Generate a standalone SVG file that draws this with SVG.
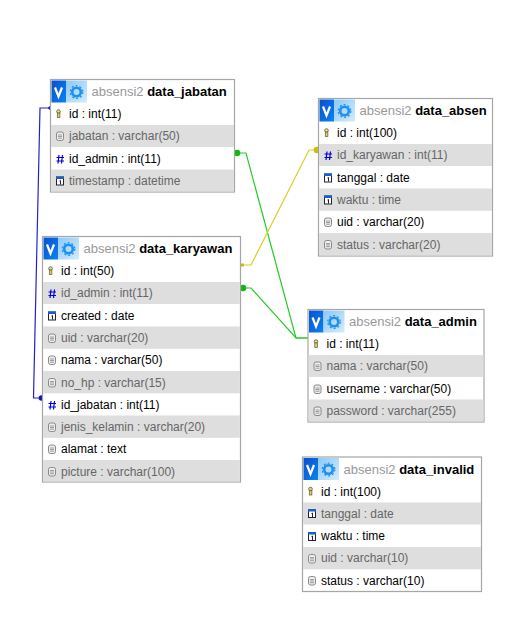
<svg xmlns="http://www.w3.org/2000/svg" xmlns:xlink="http://www.w3.org/1999/xlink" width="527" height="617" viewBox="0 0 527 617">
<style>
text{font-family:"Liberation Sans",Arial,sans-serif;font-size:12px;fill:#000}
.t{font-size:13px}
.db{fill:#999}
.n{font-weight:bold;fill:#000}
.g{fill:#666}
.box{fill:#fff;stroke:#a6a6a6;stroke-width:1.2}
.alt{fill:#dedede}
.c{fill:none;stroke-width:1.2}
.bl{stroke:#2222cc}.gr{stroke:#22cc22}.ye{stroke:#d8d020}
</style>
<defs>
<linearGradient id="vg" x1="0" y1="0" x2="1" y2="1"><stop offset="0" stop-color="#0a4fd0"/><stop offset="1" stop-color="#0a84f0"/></linearGradient>
<linearGradient id="lg" x1="0" y1="0" x2="1" y2="1"><stop offset="0" stop-color="#8cc8f8"/><stop offset="1" stop-color="#d4ecfc"/></linearGradient>
<g id="head">
<rect x="0" y="0" width="14.500" height="22" fill="url(#vg)"/>
<rect x="14.500" y="0" width="21" height="22" fill="url(#lg)"/>
<path d="M3.500 7l3.500 9 3.500-9" fill="none" stroke="#fff" stroke-width="2.200"/>
<circle cx="25" cy="11.500" r="4.300" fill="none" stroke="#1e90f0" stroke-width="2.600"/>
<circle cx="25" cy="11.500" r="6.300" fill="none" stroke="#1e90f0" stroke-width="1.200" stroke-dasharray="2 2"/>
</g>
<g id="key">
<circle cx="2.500" cy="2" r="1.800" fill="#f0e060" stroke="#555" stroke-width=".8"/>
<rect x="1.300" y="3.500" width="2.600" height="4.500" fill="#e8d040" stroke="#555" stroke-width=".7"/>
</g>
<path id="hash" d="M2.500 0.500L1.500 9M6 0.500L5 9M0 3H7.500M0 6.500H7.500" fill="none" stroke="#0000e0" stroke-width="1.200"/>
<g id="cal">
<rect x="0.500" y="0.500" width="7" height="8" fill="#fff" stroke="#223"/>
<rect x="0" y="0" width="8" height="2.500" fill="#1a5fc8"/>
<path d="M3.500 4.500l1-.5v4" fill="none" stroke="#222"/>
</g>
<g id="txt">
<rect x="0.500" y="0.500" width="7" height="8.500" rx="2" fill="#eee" stroke="#888"/>
<path d="M2 3.500H6M2 5H6M2 6.700H6" stroke="#888" stroke-width=".8"/>
</g>
</defs>

<g id="connectors">
<path class="c bl" d="M50 108H40L33.500 398H40"/>
<circle cx="41.500" cy="398" r="2.800" fill="#1010c0"/>
<circle cx="50" cy="108" r="1.800" fill="#1010c0"/>
<path class="c gr" d="M238 153H246L296 338H308"/>
<path class="c gr" d="M244 288H251L296 338H308"/>
<circle cx="237" cy="153" r="3.300" fill="#10b810"/>
<circle cx="243" cy="288" r="3.300" fill="#10b810"/>
<path class="c ye" d="M243 265H251L309 150H316"/>
<rect x="241" y="263.500" width="3" height="3" fill="#c8c000"/>
<circle cx="317" cy="150" r="3.300" fill="#c8c000"/>
</g>

<g id="data_jabatan" transform="translate(50.500 79.500)">
<rect class="box" width="184" height="112.500"/>
<rect class="alt" x=".6" y="45.500" width="182.800" height="22"/>
<rect class="alt" x=".6" y="90" width="182.800" height="22"/>
<use href="#head" x="1" y="1"/>
<text class="t" x="41" y="16.500"><tspan class="db">absensi2 </tspan><tspan class="n">data_jabatan</tspan></text>
<use href="#key" x="5.500" y="30"/><text x="18.500" y="38.500">id : int(11)</text>
<use href="#txt" x="5.500" y="52"/><text class="g" x="18.500" y="60.500">jabatan : varchar(50)</text>
<use href="#hash" x="6" y="75"/><text x="18.500" y="83">id_admin : int(11)</text>
<use href="#cal" x="5.500" y="97"/><text class="g" x="18.500" y="105">timestamp : datetime</text>
</g>

<g id="data_karyawan" transform="translate(42.500 236.500)">
<rect class="box" width="198" height="245.500"/>
<rect class="alt" x=".6" y="45.500" width="196.800" height="22"/>
<rect class="alt" x=".6" y="90" width="196.800" height="22.300"/>
<rect class="alt" x=".6" y="134.500" width="196.800" height="22.300"/>
<rect class="alt" x=".6" y="179" width="196.800" height="22.300"/>
<rect class="alt" x=".6" y="223.500" width="196.800" height="21.400"/>
<use href="#head" x="1" y="1"/>
<text class="t" x="41" y="16.500"><tspan class="db">absensi2 </tspan><tspan class="n">data_karyawan</tspan></text>
<use href="#key" x="5.500" y="30"/><text x="18.500" y="38.500">id : int(50)</text>
<use href="#hash" x="6" y="52.500"/><text class="g" x="18.500" y="60.500">id_admin : int(11)</text>
<use href="#cal" x="5.500" y="75"/><text x="18.500" y="83">created : date</text>
<use href="#txt" x="5.500" y="97"/><text class="g" x="18.500" y="105">uid : varchar(20)</text>
<use href="#txt" x="5.500" y="119"/><text x="18.500" y="127.500">nama : varchar(50)</text>
<use href="#txt" x="5.500" y="141.500"/><text class="g" x="18.500" y="150">no_hp : varchar(15)</text>
<use href="#hash" x="6" y="164"/><text x="18.500" y="172">id_jabatan : int(11)</text>
<use href="#txt" x="5.500" y="186"/><text class="g" x="18.500" y="194.500">jenis_kelamin : varchar(20)</text>
<use href="#txt" x="5.500" y="208"/><text x="18.500" y="216.500">alamat : text</text>
<use href="#txt" x="5.500" y="230.500"/><text class="g" x="18.500" y="239">picture : varchar(100)</text>
</g>

<g id="data_absen" transform="translate(318.500 98.500)">
<rect class="box" width="174" height="157.500"/>
<rect class="alt" x=".6" y="45.500" width="172.800" height="22"/>
<rect class="alt" x=".6" y="90" width="172.800" height="22.300"/>
<rect class="alt" x=".6" y="134.500" width="172.800" height="22.400"/>
<use href="#head" x="1" y="1"/>
<text class="t" x="41" y="16.500"><tspan class="db">absensi2 </tspan><tspan class="n">data_absen</tspan></text>
<use href="#key" x="5.500" y="30"/><text x="18.500" y="38.500">id : int(100)</text>
<use href="#hash" x="6" y="52.500"/><text class="g" x="18.500" y="60.500">id_karyawan : int(11)</text>
<use href="#cal" x="5.500" y="75"/><text x="18.500" y="83">tanggal : date</text>
<use href="#cal" x="5.500" y="97"/><text class="g" x="18.500" y="105">waktu : time</text>
<use href="#txt" x="5.500" y="119"/><text x="18.500" y="127.500">uid : varchar(20)</text>
<use href="#txt" x="5.500" y="141.500"/><text class="g" x="18.500" y="150">status : varchar(20)</text>
</g>

<g id="data_admin" transform="translate(308 309.500)">
<rect class="box" width="176" height="112.500"/>
<rect class="alt" x=".6" y="45.500" width="174.800" height="22"/>
<rect class="alt" x=".6" y="90" width="174.800" height="21.900"/>
<use href="#head" x="1" y="1"/>
<text class="t" x="41" y="16.500"><tspan class="db">absensi2 </tspan><tspan class="n">data_admin</tspan></text>
<use href="#key" x="5.500" y="30"/><text x="18.500" y="38.500">id : int(11)</text>
<use href="#txt" x="5.500" y="52"/><text class="g" x="18.500" y="60.500">nama : varchar(50)</text>
<use href="#txt" x="5.500" y="75"/><text x="18.500" y="83">username : varchar(50)</text>
<use href="#txt" x="5.500" y="97"/><text class="g" x="18.500" y="105">password : varchar(255)</text>
</g>

<g id="data_invalid" transform="translate(302.500 457)">
<rect class="box" width="179" height="134.500"/>
<rect class="alt" x=".6" y="45.500" width="177.800" height="22"/>
<rect class="alt" x=".6" y="90" width="177.800" height="22.300"/>
<use href="#head" x="1" y="1"/>
<text class="t" x="41" y="16.500"><tspan class="db">absensi2 </tspan><tspan class="n">data_invalid</tspan></text>
<use href="#key" x="5.500" y="30"/><text x="18.500" y="38.500">id : int(100)</text>
<use href="#cal" x="5.500" y="52"/><text class="g" x="18.500" y="60.500">tanggal : date</text>
<use href="#cal" x="5.500" y="75"/><text x="18.500" y="83">waktu : time</text>
<use href="#txt" x="5.500" y="97"/><text class="g" x="18.500" y="105">uid : varchar(10)</text>
<use href="#txt" x="5.500" y="119"/><text x="18.500" y="127.500">status : varchar(10)</text>
</g>
</svg>
